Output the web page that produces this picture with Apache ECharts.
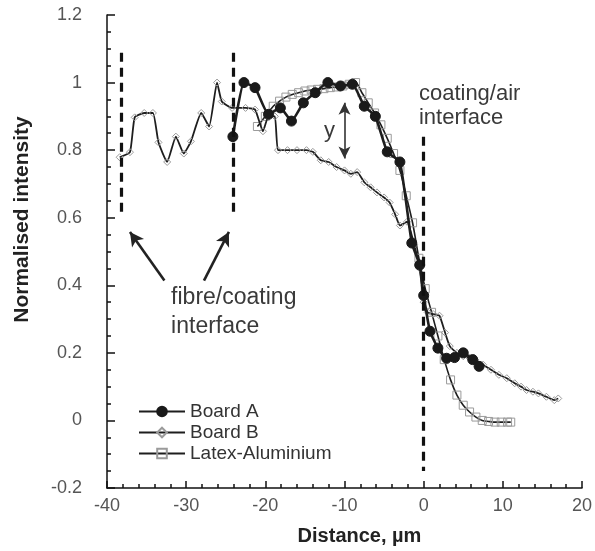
<!DOCTYPE html>
<html>
<head>
<meta charset="utf-8">
<script src="https://cdn.jsdelivr.net/npm/echarts@6/dist/echarts.min.js"></script>
<style>
  html, body { margin: 0; padding: 0; background: #fff; }
  #chart { width: 595px; height: 551px; }
</style>
</head>
<body>
<div id="chart"></div>
<script>
// Intensity profiles across the coating: [distance (µm), normalised intensity]
const boardA = [
  [-24.1, 0.84], [-22.7, 1.0], [-21.3, 0.985], [-19.6, 0.906], [-18.1, 0.925],
  [-16.7, 0.886], [-15.2, 0.94], [-13.7, 0.97], [-12.1, 1.0], [-10.5, 0.99],
  [-9.0, 0.995], [-7.5, 0.93], [-6.1, 0.90], [-4.6, 0.795], [-3.0, 0.765],
  [-1.5, 0.525], [-0.5, 0.46], [0.0, 0.37], [0.8, 0.264], [1.8, 0.214],
  [2.9, 0.184], [3.9, 0.186], [5.0, 0.20], [6.2, 0.18], [7.0, 0.16]
];
const boardB = [
  [-38.4, 0.779], [-37.1, 0.794], [-36.5, 0.897], [-35.3, 0.91], [-34.2, 0.91],
  [-33.5, 0.823], [-32.4, 0.765], [-31.3, 0.84], [-30.3, 0.79], [-29.4, 0.826],
  [-28.1, 0.91], [-27.1, 0.87], [-26.1, 1.0], [-25.5, 0.944], [-24.2, 0.925],
  [-22.5, 0.925], [-21.3, 0.92], [-20.3, 0.856], [-19.6, 0.90], [-18.8, 0.90],
  [-18.4, 0.80], [-17.2, 0.80], [-16.0, 0.80], [-14.8, 0.80], [-14.0, 0.795],
  [-13.0, 0.77], [-12.0, 0.765], [-11.0, 0.75], [-10.0, 0.74], [-9.2, 0.73],
  [-8.4, 0.735], [-7.5, 0.705], [-6.7, 0.69], [-5.9, 0.675], [-5.0, 0.66],
  [-4.3, 0.645], [-3.6, 0.61], [-3.0, 0.577], [-2.1, 0.588], [-1.2, 0.52],
  [-0.5, 0.45], [0.0, 0.35], [0.5, 0.32], [1.2, 0.315], [2.0, 0.31],
  [2.7, 0.26], [3.3, 0.22], [4.2, 0.20], [5.0, 0.19], [5.8, 0.185],
  [6.5, 0.18], [7.5, 0.165], [8.5, 0.15], [9.5, 0.135], [10.5, 0.125],
  [11.5, 0.11], [12.3, 0.10], [13.0, 0.09], [13.8, 0.085], [14.5, 0.08],
  [15.5, 0.07], [16.5, 0.06], [17.0, 0.065]
];
const latexAl = [
  [-21.0, 0.87], [-20.0, 0.90], [-19.0, 0.93], [-18.2, 0.945], [-17.4, 0.957],
  [-16.6, 0.965], [-15.8, 0.97], [-15.0, 0.975], [-14.2, 0.978], [-13.4, 0.98],
  [-12.6, 0.982], [-11.8, 0.985], [-11.0, 0.987], [-10.2, 0.99], [-9.4, 0.995],
  [-8.6, 1.0], [-7.8, 0.97], [-7.0, 0.94], [-6.2, 0.91], [-5.4, 0.875],
  [-4.6, 0.835], [-3.8, 0.79], [-3.0, 0.74], [-2.2, 0.665], [-1.4, 0.585],
  [-0.6, 0.48], [0.2, 0.39], [1.0, 0.32], [1.8, 0.25], [2.6, 0.18],
  [3.4, 0.12], [4.2, 0.075], [5.0, 0.045], [5.8, 0.025], [6.6, 0.01],
  [7.4, 0.0], [8.2, -0.003], [9.0, -0.005], [9.8, -0.005], [10.6, -0.005],
  [11.0, -0.005]
];

// Axis ranges and tick steps
const xRange = { min: -40, max: 20, step: 10 };
const yRange = { min: -0.2, max: 1.2, step: 0.2 };

// Interface markers (dashed) and annotation arrows, in data units
const interfaceLines = [
  [[-38.2, 1.088], [-38.2, 0.605]],
  [[-24.1, 1.088], [-24.1, 0.605]],
  [[0.0, 0.84], [0.0, -0.15]]
];
const pointerArrows = [
  [[-32.75, 0.414], [-37.1, 0.558]],
  [[-27.75, 0.414], [-24.6, 0.558]]
];
const gapArrow = [[-10.0, 0.94], [-10.0, 0.775]];

// Text annotations: [x, y, text]
const notes = [
  [-0.6, 0.965, 'coating/air'],
  [-0.6, 0.895, 'interface'],
  [-31.9, 0.362, 'fibre/coating'],
  [-31.9, 0.278, 'interface'],
  [-12.6, 0.858, 'y']
];

const chart = echarts.init(document.getElementById('chart'), null, { renderer: 'canvas' });
const FONT = 'Liberation Sans, Arial, sans-serif';
const INK = '#1e1e1e';

const segs = (list) => list.map(s => [{ coord: s[0] }, { coord: s[1] }]);

chart.setOption({
  animation: false,
  backgroundColor: '#fff',
  grid: { left: 107, right: 8, top: 15, bottom: 61, containLabel: false },
  legend: {
    orient: 'vertical',
    left: 133, top: 397,
    itemWidth: 46, itemHeight: 12, itemGap: 2,
    textStyle: { fontFamily: FONT, fontSize: 19, color: '#333' },
    data: ['Board A', 'Board B', 'Latex-Aluminium']
  },
  xAxis: {
    type: 'value', min: xRange.min, max: xRange.max, interval: xRange.step,
    name: 'Distance, µm', nameLocation: 'middle', nameGap: 38,
    nameTextStyle: { fontFamily: FONT, fontSize: 20, fontWeight: 'bold', color: '#222',
      padding: [0, 0, 0, 30] },
    axisLine: { show: true, onZero: false, lineStyle: { color: '#111', width: 1.5 } },
    axisTick: { show: true, inside: true, length: 7, lineStyle: { color: '#111', width: 1.5 } },
    minorTick: { show: true, splitNumber: 5, length: 4, lineStyle: { color: '#111', width: 1.5 } },
    axisLabel: { fontFamily: FONT, fontSize: 18, color: '#555', margin: 9 },
    splitLine: { show: false }
  },
  yAxis: {
    type: 'value', min: yRange.min, max: yRange.max, interval: yRange.step,
    name: 'Normalised intensity', nameLocation: 'middle', nameGap: 74,
    nameTextStyle: { fontFamily: FONT, fontSize: 21, fontWeight: 'bold', color: '#222',
      padding: [0, 0, 0, 64] },
    axisLine: { show: true, onZero: false, lineStyle: { color: '#111', width: 1.5 } },
    axisTick: { show: true, inside: true, length: 8, lineStyle: { color: '#111', width: 1.5 } },
    minorTick: { show: true, splitNumber: 4, length: 4, lineStyle: { color: '#111', width: 1.5 } },
    axisLabel: { fontFamily: FONT, fontSize: 18, color: '#555', margin: 25,
      formatter: v => String(Math.round(v * 10) / 10) },
    splitLine: { show: false }
  },
  series: [
    {
      name: 'Latex-Aluminium', type: 'line', data: latexAl, smooth: 0.3,
      symbol: 'rect', symbolSize: 8, showAllSymbol: true,
      lineStyle: { color: INK, width: 1.6 },
      itemStyle: { color: 'rgba(255,255,255,0)', borderColor: '#9a9a9a', borderWidth: 1 },
      z: 2
    },
    {
      name: 'Board B', type: 'line', data: boardB, smooth: 0.15,
      symbol: 'diamond', symbolSize: 7, showAllSymbol: true,
      lineStyle: { color: INK, width: 1.8 },
      itemStyle: { color: 'rgba(255,255,255,0)', borderColor: '#9a9a9a', borderWidth: 1 },
      z: 3
    },
    {
      name: 'Board A', type: 'line', data: boardA, smooth: 0.15,
      symbol: 'circle', symbolSize: 10, showAllSymbol: true,
      lineStyle: { color: INK, width: 2.6 },
      itemStyle: { color: '#1a1a1a', borderColor: '#1a1a1a', borderWidth: 1 },
      z: 4
    },
    {
      // Annotation layer: interface markers
      name: 'notes', type: 'line', data: [], silent: true,
      markLine: {
        silent: true, animation: false, symbol: 'none',
        label: { show: false },
        lineStyle: { color: '#111', type: [9, 6], width: 3.2 },
        data: segs(interfaceLines)
      },
      z: 5
    },
    {
      name: 'arrows', type: 'line', data: [], silent: true,
      markLine: {
        silent: true, animation: false,
        symbol: ['none', 'arrow'], symbolSize: [11, 14],
        label: { show: false },
        lineStyle: { color: '#222', type: 'solid', width: 2.6 },
        data: segs(pointerArrows)
      },
      z: 5
    },
    {
      name: 'gap', type: 'line', data: [], silent: true,
      markLine: {
        silent: true, animation: false,
        symbol: ['arrow', 'arrow'], symbolSize: [9, 12],
        label: { show: false },
        lineStyle: { color: '#333', type: 'solid', width: 1.6 },
        data: segs([gapArrow])
      },
      z: 5
    }
  ]
});

// Place text annotations at their data positions
function placeNotes() {
  const elements = notes.map(n => {
    const p = chart.convertToPixel({ gridIndex: 0 }, [n[0], n[1]]);
    return {
      type: 'text', x: p[0], y: p[1], z: 10,
      style: {
        text: n[2], fontFamily: FONT,
        fontSize: n[2] === 'y' ? 22 : (n[2] === 'fibre/coating' || n[1] < 0.5 ? 23 : 22),
        fill: '#3a3a3a', textAlign: 'left', textVerticalAlign: 'middle'
      }
    };
  });
  chart.setOption({ graphic: elements });
}
placeNotes();
</script>
</body>
</html>
